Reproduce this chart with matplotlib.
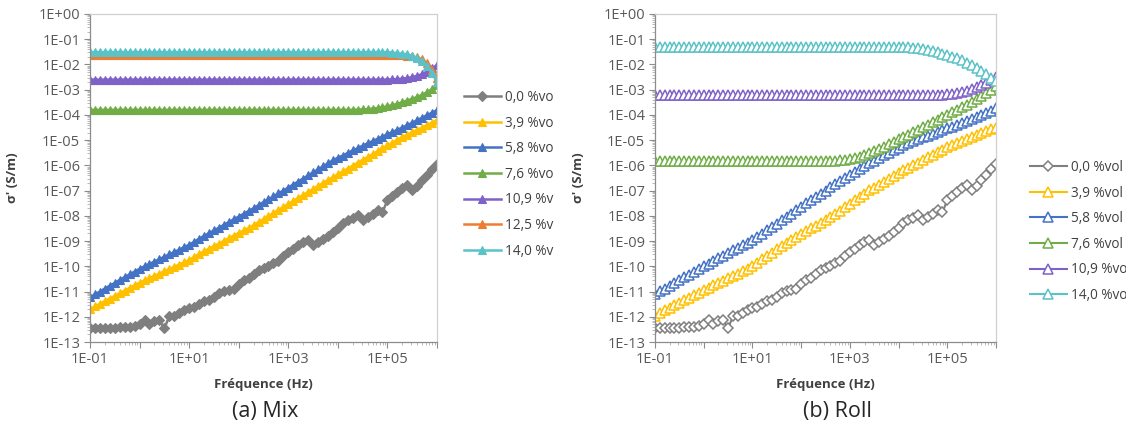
import matplotlib
matplotlib.use("Agg")
import matplotlib.pyplot as plt
import numpy as np
from matplotlib.ticker import LogLocator, FuncFormatter, NullFormatter

# --- Data (stored as log10) ---
# frequency sweep, exponent of 10 in Hz
freq_exp = [
    -1.0, -0.9, -0.8, -0.7, -0.6, -0.5, -0.4, -0.3, -0.2, -0.1,
    0.0, 0.1, 0.2, 0.3, 0.4, 0.5, 0.6, 0.7, 0.8, 0.9,
    1.0, 1.1, 1.2, 1.3, 1.4, 1.5, 1.6, 1.7, 1.8, 1.9,
    2.0, 2.1, 2.2, 2.3, 2.4, 2.5, 2.6, 2.7, 2.8, 2.9,
    3.0, 3.1, 3.2, 3.3, 3.4, 3.5, 3.6, 3.7, 3.8, 3.9,
    4.0, 4.1, 4.2, 4.3, 4.4, 4.5, 4.6, 4.7, 4.8, 4.9,
    5.0, 5.1, 5.2, 5.3, 5.4, 5.5, 5.6, 5.7, 5.8, 5.9,
    6.0,
]

# (a) Mix
mix_00 = [
    -12.46, -12.45, -12.44, -12.44, -12.43, -12.43, -12.42, -12.42, -12.40, -12.38,
    -12.30, -12.12, -12.28, -12.18, -12.14, -12.46, -11.98, -11.95, -11.85, -11.72,
    -11.65, -11.60, -11.50, -11.38, -11.33, -11.20, -11.05, -10.98, -10.93, -10.88,
    -10.70, -10.56, -10.45, -10.32, -10.15, -10.05, -9.98, -9.88, -9.78, -9.60,
    -9.45, -9.30, -9.15, -9.03, -8.95, -9.17, -9.05, -8.92, -8.78, -8.65,
    -8.50, -8.30, -8.18, -8.08, -7.98, -8.17, -8.05, -7.92, -7.78, -7.86,
    -7.38, -7.20, -7.05, -6.90, -6.79, -6.98, -6.80, -6.58, -6.38, -6.15,
    -5.95,
]
mix_39 = [
    -11.70, -11.59, -11.49, -11.38, -11.28, -11.17, -11.07, -10.96, -10.86, -10.75,
    -10.65, -10.56, -10.47, -10.38, -10.29, -10.20, -10.11, -10.02, -9.93, -9.84,
    -9.75, -9.63, -9.51, -9.41, -9.30, -9.20, -9.10, -8.99, -8.89, -8.78,
    -8.68, -8.58, -8.48, -8.37, -8.25, -8.13, -8.01, -7.89, -7.77, -7.65,
    -7.53, -7.41, -7.29, -7.18, -7.06, -6.94, -6.82, -6.70, -6.58, -6.47,
    -6.36, -6.24, -6.13, -6.01, -5.90, -5.78, -5.67, -5.56, -5.44, -5.33,
    -5.21, -5.10, -4.99, -4.88, -4.78, -4.69, -4.59, -4.50, -4.40, -4.31,
    -4.21,
]
mix_58 = [
    -11.23, -11.11, -11.00, -10.88, -10.77, -10.66, -10.54, -10.43, -10.32, -10.21,
    -10.10, -10.00, -9.91, -9.81, -9.72, -9.62, -9.53, -9.43, -9.34, -9.24,
    -9.15, -9.03, -8.91, -8.80, -8.69, -8.58, -8.47, -8.36, -8.25, -8.14,
    -8.03, -7.92, -7.81, -7.70, -7.58, -7.46, -7.35, -7.23, -7.11, -7.00,
    -6.88, -6.76, -6.64, -6.52, -6.40, -6.28, -6.16, -6.04, -5.92, -5.80,
    -5.70, -5.61, -5.51, -5.41, -5.32, -5.22, -5.13, -5.04, -4.95, -4.86,
    -4.77, -4.68, -4.59, -4.50, -4.41, -4.31, -4.21, -4.11, -4.01, -3.91,
    -3.81,
]
mix_76 = [
    -3.80, -3.80, -3.80, -3.80, -3.80, -3.80, -3.80, -3.80, -3.80, -3.80,
    -3.80, -3.80, -3.80, -3.80, -3.80, -3.80, -3.80, -3.80, -3.80, -3.80,
    -3.80, -3.80, -3.80, -3.80, -3.80, -3.80, -3.80, -3.80, -3.80, -3.80,
    -3.80, -3.80, -3.80, -3.80, -3.80, -3.80, -3.80, -3.80, -3.80, -3.80,
    -3.80, -3.80, -3.80, -3.80, -3.80, -3.80, -3.80, -3.80, -3.80, -3.80,
    -3.80, -3.80, -3.80, -3.80, -3.79, -3.78, -3.77, -3.75, -3.73, -3.70,
    -3.66, -3.61, -3.56, -3.50, -3.43, -3.36, -3.29, -3.20, -3.10, -2.98,
    -2.82,
]
mix_109 = [
    -2.60, -2.60, -2.60, -2.60, -2.60, -2.60, -2.60, -2.60, -2.60, -2.60,
    -2.60, -2.60, -2.60, -2.60, -2.60, -2.60, -2.60, -2.60, -2.60, -2.60,
    -2.60, -2.60, -2.60, -2.60, -2.60, -2.60, -2.60, -2.60, -2.60, -2.60,
    -2.60, -2.60, -2.60, -2.60, -2.60, -2.60, -2.60, -2.60, -2.60, -2.60,
    -2.60, -2.60, -2.60, -2.60, -2.60, -2.60, -2.60, -2.60, -2.60, -2.60,
    -2.60, -2.60, -2.60, -2.60, -2.60, -2.60, -2.60, -2.60, -2.60, -2.60,
    -2.60, -2.59, -2.58, -2.56, -2.54, -2.50, -2.45, -2.38, -2.28, -2.16,
    -2.02,
]
mix_125 = [
    -1.63, -1.63, -1.63, -1.63, -1.63, -1.63, -1.63, -1.63, -1.63, -1.63,
    -1.63, -1.63, -1.63, -1.63, -1.63, -1.63, -1.63, -1.63, -1.63, -1.63,
    -1.63, -1.63, -1.63, -1.63, -1.63, -1.63, -1.63, -1.63, -1.63, -1.63,
    -1.63, -1.63, -1.63, -1.63, -1.63, -1.63, -1.63, -1.63, -1.63, -1.63,
    -1.63, -1.63, -1.63, -1.63, -1.63, -1.63, -1.63, -1.63, -1.63, -1.63,
    -1.63, -1.63, -1.63, -1.63, -1.63, -1.63, -1.63, -1.63, -1.63, -1.63,
    -1.63, -1.63, -1.63, -1.63, -1.65, -1.68, -1.72, -1.80, -1.95, -2.20,
    -2.55,
]
mix_140 = [
    -1.51, -1.51, -1.51, -1.51, -1.51, -1.51, -1.51, -1.51, -1.51, -1.51,
    -1.51, -1.51, -1.51, -1.51, -1.51, -1.51, -1.51, -1.51, -1.51, -1.51,
    -1.51, -1.51, -1.51, -1.51, -1.51, -1.51, -1.51, -1.51, -1.51, -1.51,
    -1.51, -1.51, -1.51, -1.51, -1.51, -1.51, -1.51, -1.51, -1.51, -1.51,
    -1.51, -1.51, -1.51, -1.51, -1.51, -1.51, -1.51, -1.51, -1.51, -1.51,
    -1.51, -1.51, -1.51, -1.51, -1.51, -1.51, -1.51, -1.51, -1.51, -1.51,
    -1.51, -1.53, -1.55, -1.57, -1.60, -1.66, -1.75, -1.88, -2.08, -2.35,
    -2.70,
]

# (b) Roll
roll_00 = mix_00  # same reference sample in both panels
roll_39 = [
    -11.95, -11.85, -11.75, -11.65, -11.55, -11.45, -11.35, -11.25, -11.15, -11.05,
    -10.95, -10.86, -10.76, -10.67, -10.57, -10.48, -10.38, -10.29, -10.19, -10.10,
    -10.00, -9.87, -9.73, -9.60, -9.46, -9.32, -9.21, -9.09, -8.97, -8.85,
    -8.73, -8.62, -8.50, -8.39, -8.27, -8.16, -8.04, -7.93, -7.80, -7.66,
    -7.53, -7.39, -7.26, -7.12, -6.99, -6.88, -6.76, -6.65, -6.53, -6.42,
    -6.30, -6.19, -6.09, -5.99, -5.89, -5.79, -5.68, -5.58, -5.48, -5.38,
    -5.29, -5.20, -5.11, -5.02, -4.94, -4.86, -4.78, -4.70, -4.62, -4.56,
    -4.50,
]
roll_58 = [
    -11.10, -10.99, -10.88, -10.77, -10.66, -10.55, -10.44, -10.33, -10.22, -10.11,
    -10.00, -9.90, -9.79, -9.69, -9.58, -9.48, -9.37, -9.27, -9.16, -9.06,
    -8.95, -8.83, -8.70, -8.57, -8.44, -8.31, -8.18, -8.04, -7.91, -7.77,
    -7.64, -7.51, -7.38, -7.26, -7.13, -7.00, -6.87, -6.75, -6.63, -6.51,
    -6.39, -6.27, -6.15, -6.03, -5.92, -5.81, -5.70, -5.60, -5.50, -5.40,
    -5.30, -5.20, -5.12, -5.04, -4.97, -4.89, -4.82, -4.74, -4.67, -4.60,
    -4.53, -4.46, -4.39, -4.32, -4.25, -4.18, -4.10, -4.02, -3.93, -3.83,
    -3.73,
]
roll_76 = [
    -5.83, -5.83, -5.83, -5.83, -5.83, -5.83, -5.83, -5.83, -5.83, -5.83,
    -5.83, -5.83, -5.83, -5.83, -5.83, -5.83, -5.83, -5.83, -5.83, -5.83,
    -5.83, -5.83, -5.83, -5.83, -5.83, -5.83, -5.83, -5.83, -5.83, -5.83,
    -5.83, -5.83, -5.83, -5.83, -5.83, -5.83, -5.82, -5.81, -5.79, -5.77,
    -5.74, -5.70, -5.65, -5.59, -5.52, -5.44, -5.35, -5.26, -5.17, -5.07,
    -4.97, -4.88, -4.78, -4.68, -4.59, -4.49, -4.40, -4.30, -4.20, -4.10,
    -4.00, -3.90, -3.80, -3.70, -3.60, -3.50, -3.38, -3.26, -3.13, -3.00,
    -2.85,
]
roll_109 = [
    -3.21, -3.21, -3.21, -3.21, -3.21, -3.21, -3.21, -3.21, -3.21, -3.21,
    -3.21, -3.21, -3.21, -3.21, -3.21, -3.21, -3.21, -3.21, -3.21, -3.21,
    -3.21, -3.21, -3.21, -3.21, -3.21, -3.21, -3.21, -3.21, -3.21, -3.21,
    -3.21, -3.21, -3.21, -3.21, -3.21, -3.21, -3.21, -3.21, -3.21, -3.21,
    -3.21, -3.21, -3.21, -3.21, -3.21, -3.21, -3.21, -3.21, -3.21, -3.21,
    -3.21, -3.21, -3.21, -3.21, -3.21, -3.21, -3.21, -3.21, -3.21, -3.20,
    -3.19, -3.17, -3.14, -3.10, -3.05, -2.98, -2.90, -2.81, -2.72, -2.62,
    -2.50,
]
roll_140 = [
    -1.29, -1.29, -1.29, -1.29, -1.29, -1.29, -1.29, -1.29, -1.29, -1.29,
    -1.29, -1.29, -1.29, -1.29, -1.29, -1.29, -1.29, -1.29, -1.29, -1.29,
    -1.29, -1.29, -1.29, -1.29, -1.29, -1.29, -1.29, -1.29, -1.29, -1.29,
    -1.29, -1.29, -1.29, -1.29, -1.29, -1.29, -1.29, -1.29, -1.29, -1.29,
    -1.29, -1.29, -1.29, -1.29, -1.29, -1.29, -1.29, -1.29, -1.29, -1.29,
    -1.30, -1.31, -1.32, -1.34, -1.36, -1.39, -1.43, -1.47, -1.52, -1.57,
    -1.63, -1.69, -1.76, -1.84, -1.93, -2.03, -2.14, -2.26, -2.39, -2.52,
    -2.65,
]

mix_labels = ["0,0 %vo", "3,9 %vo", "5,8 %vo", "7,6 %vo", "10,9 %v", "12,5 %v", "14,0 %v"]
roll_labels = ["0,0 %vol", "3,9 %vol", "5,8 %vol", "7,6 %vol", "10,9 %vol", "14,0 %vol"]

GREY = "#7f7f7f"
YELLOW = "#ffc000"
BLUE = "#4472c4"
GREEN = "#70ad47"
PURPLE = "#7e62c8"
ORANGE = "#ed7d31"
CYAN = "#5bc2c7"

mix_series = [mix_00, mix_39, mix_58, mix_76, mix_109, mix_125, mix_140]
mix_colors = [GREY, YELLOW, BLUE, GREEN, PURPLE, ORANGE, CYAN]
roll_series = [roll_00, roll_39, roll_58, roll_76, roll_109, roll_140]
roll_colors = [GREY, YELLOW, BLUE, GREEN, PURPLE, CYAN]

# --- Style ---
plt.rcParams["font.family"] = ["Open Sans", "DejaVu Sans"]
TXT = "#595959"
AXIS = "#8c8c8c"
BORDER = "#d0d0d0"

freq = 10.0 ** np.array(freq_exp)

fig = plt.figure(figsize=(11.26, 4.32), dpi=100)
W, H = 1126, 432
ax_a = fig.add_axes([90 / W, 1 - 342 / H, 347 / W, 328 / H])
ax_b = fig.add_axes([655 / W, 1 - 342 / H, 341 / W, 328 / H])


def exp_fmt(v, pos):
    e = int(round(np.log10(v)))
    return "1E{:+03d}".format(e)


def xexp_fmt(v, pos):
    e = int(round(np.log10(v)))
    if e % 2 == 0:
        return ""
    return "1E{:+03d}".format(e)


def style_axes(ax):
    ax.set_xscale("log")
    ax.set_yscale("log")
    ax.set_xlim(1e-1, 1e6)
    ax.set_ylim(1e-13, 1e0)
    ax.yaxis.set_major_locator(LogLocator(base=10, numticks=30))
    ax.yaxis.set_minor_locator(LogLocator(base=10, subs=np.arange(2, 10), numticks=30))
    ax.xaxis.set_major_locator(LogLocator(base=10, numticks=30))
    ax.xaxis.set_minor_locator(LogLocator(base=10, subs=np.arange(2, 10), numticks=30))
    ax.yaxis.set_major_formatter(FuncFormatter(exp_fmt))
    ax.xaxis.set_major_formatter(FuncFormatter(xexp_fmt))
    ax.yaxis.set_minor_formatter(NullFormatter())
    ax.xaxis.set_minor_formatter(NullFormatter())
    ax.tick_params(which="major", length=4, width=0.8, color=AXIS, labelcolor=TXT,
                   labelsize=10.5, pad=3)
    ax.tick_params(which="minor", length=2.5, width=0.6, color="#b0b0b0")
    for side in ["left", "bottom"]:
        ax.spines[side].set_color(AXIS)
        ax.spines[side].set_linewidth(0.9)
    for side in ["top", "right"]:
        ax.spines[side].set_color(BORDER)
        ax.spines[side].set_linewidth(0.9)
    ax.set_xlabel("Fréquence (Hz)", fontsize=9.5, fontweight="bold", color="#404040")
    ax.xaxis.set_label_coords(0.5, -0.11)
    ax.set_ylabel("σ' (S/m)", fontsize=9.5, fontweight="bold", color="#404040")
    ax.yaxis.set_label_coords(-0.205, 0.5)


# (a) Mix: filled markers
for vals, lab, col in zip(mix_series, mix_labels, mix_colors):
    mk = "D" if col == GREY else "^"
    ax_a.plot(freq, 10.0 ** np.array(vals), color=col, lw=1.8, marker=mk,
              ms=6.3 if mk == "^" else 5.2, mfc=col, mec=col, mew=0.8, label=lab)

# (b) Roll: open markers
for vals, lab, col in zip(roll_series, roll_labels, roll_colors):
    mk = "D" if col == GREY else "^"
    ax_b.plot(freq, 10.0 ** np.array(vals), color=col, lw=1.5, marker=mk,
              ms=6.5 if mk == "^" else 5.5, mfc="white", mec=col, mew=1.1, label=lab)

for ax in (ax_a, ax_b):
    style_axes(ax)

leg_kw = dict(frameon=False, borderpad=0, borderaxespad=0, handlelength=2.7,
              handletextpad=0.3, labelspacing=0.78, fontsize=9.8,
              bbox_transform=fig.transFigure, loc="upper left")
leg_a = ax_a.legend(bbox_to_anchor=(464 / W, 1 - 90 / H), **leg_kw)
leg_b = ax_b.legend(bbox_to_anchor=(1030 / W, 1 - 160 / H), **leg_kw)
for leg in (leg_a, leg_b):
    for t in leg.get_texts():
        t.set_color("#404040")

fig.text(265 / W, 1 - 412 / H, "(a) Mix", ha="center", va="center", fontsize=15.5, color="#262626")
fig.text(837 / W, 1 - 412 / H, "(b) Roll", ha="center", va="center", fontsize=15.5, color="#262626")

fig.savefig("out.png", dpi=100)
